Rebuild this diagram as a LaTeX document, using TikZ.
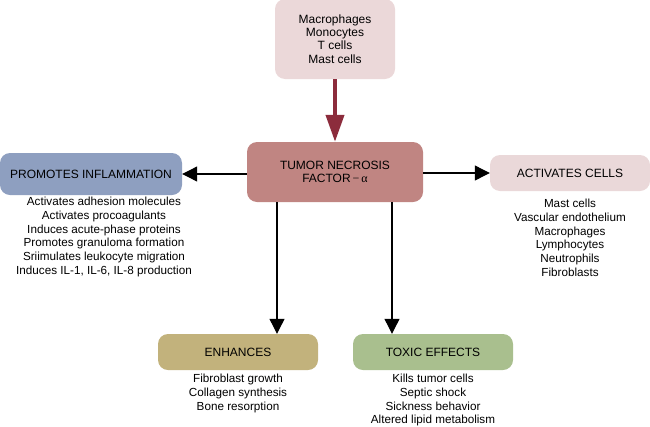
\documentclass[tikz,border=0pt]{standalone}
\usepackage{fontspec}
\setmainfont{Liberation Sans}
\newfontfamily\alphafont{Liberation Serif}
\usetikzlibrary{arrows.meta}
\definecolor{topc}{HTML}{EBD8D9}
\definecolor{tnfc}{HTML}{C08582}
\definecolor{promc}{HTML}{8E9FC0}
\definecolor{actc}{HTML}{EAD8D9}
\definecolor{enhc}{HTML}{C2B27C}
\definecolor{toxc}{HTML}{A9BF8E}
\definecolor{redarrow}{HTML}{8C2C3C}
\tikzset{
  box/.style={rounded corners=10pt, inner sep=0pt, align=center, font=\fontsize{12}{13.3}\selectfont},
  lst/.style={align=center, font=\fontsize{11.7}{13.7}\selectfont, inner sep=0pt, anchor=north},
  blk/.style={-{Triangle[length=15pt,width=15pt]}, line width=1.1pt, black},
}
\begin{document}
\begin{tikzpicture}[x=1pt,y=-1pt]
\useasboundingbox (0,0) rectangle (650,426);
\node[box, fill=topc, minimum width=120pt, minimum height=80pt] (top) at (335,39) {Macrophages\\Monocytes\\T cells\\Mast cells};
\node[box, fill=tnfc, minimum width=176pt, minimum height=60pt] (tnf) at (335,172) {TUMOR NECROSIS\\FACTOR{\alphafont\,−\,α}};
\node[box, fill=promc, minimum width=182pt, minimum height=42pt] (prom) at (91,174) {PROMOTES INFLAMMATION};
\node[box, fill=actc, minimum width=160pt, minimum height=36pt] (act) at (570,173) {ACTIVATES CELLS};
\node[box, fill=enhc, minimum width=160pt, minimum height=36pt] (enh) at (238,352) {ENHANCES};
\node[box, fill=toxc, minimum width=160pt, minimum height=36pt] (tox) at (433,352) {TOXIC EFFECTS};
\node[lst] (promlist) at (104,197) {Activates adhesion molecules\\Activates procoagulants\\Induces acute-phase proteins\\Promotes granuloma formation\\Sriimulates leukocyte migration\\Induces IL-1, IL-6, IL-8 production};
\node[lst] (actlist) at (570,199) {Mast cells\\Vascular endothelium\\Macrophages\\Lymphocytes\\Neutrophils\\Fibroblasts};
\node[lst] (enhlist) at (238,374) {Fibroblast growth\\Collagen synthesis\\Bone resorption};
\node[lst] (toxlist) at (433,374) {Kills tumor cells\\Septic shock\\Sickness behavior\\Altered lipid metabolism};
\draw[-{Triangle[length=27pt,width=18pt]}, line width=4pt, redarrow] (top.south) -- (tnf.north);
\draw[blk] (tnf.west |- prom.east) -- (prom.east);
\draw[blk] (tnf.east |- act.west) -- (act.west);
\coordinate (ea) at (277,202);
\coordinate (ta) at (392,202);
\draw[blk] (ea) -- (ea |- enh.north);
\draw[blk] (ta) -- (ta |- tox.north);
\end{tikzpicture}
\end{document}
